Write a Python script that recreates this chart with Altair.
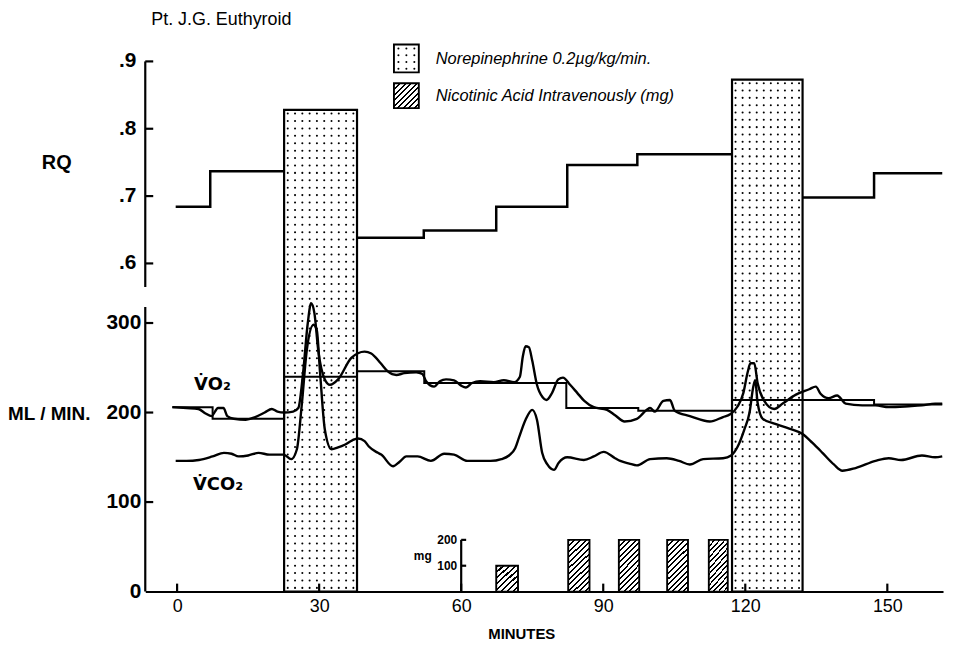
import math
import altair as alt
import numpy as np
import pandas as pd

# ---------------- values ----------------
# RQ per collection period (minutes, RQ)
rq_start = [-0.3, 7.0, 38.0, 52.1, 67.4, 82.4, 97.2, 132.1, 147.2]
rq_end = [7.0, 22.6, 52.1, 67.4, 82.4, 97.2, 117.2, 147.2, 161.6]
rq_value = [0.684, 0.737, 0.638, 0.649, 0.684, 0.746, 0.762, 0.698, 0.734]

# mean VO2 per period (ml/min)
vo2_mean_start = [-1.0, 7.5, 22.6, 38.0, 52.2, 82.2, 97.4, 117.2, 147.2]
vo2_mean_end = [7.5, 22.6, 38.0, 52.2, 82.2, 97.4, 117.2, 147.2, 161.6]
vo2_mean_value = [206, 193, 240, 246, 233, 205, 202, 214, 209]

# continuous VO2 trace
vo2_minute = [-1.0, 2.0, 4.5, 6.0, 7.3, 8.0, 8.6, 9.8, 10.6, 12.0, 14.5, 16.5, 18.5, 20.0,
              21.2, 22.6, 24.5, 25.6, 26.6, 27.6, 28.3, 29.0, 29.8, 31.2, 32.3, 34.0, 36.8,
              39.6, 41.0, 43.0, 44.5, 46.3, 48.0, 50.5, 51.8, 52.6, 54.3, 55.5, 56.8, 58.5,
              60.0, 61.0, 62.3, 64.0, 66.9, 69.0, 71.2, 72.4, 73.0, 73.6, 74.3, 75.0, 76.0,
              77.2, 78.0, 79.2, 80.5, 81.5, 83.0, 84.5, 86.0, 88.0, 90.8, 92.5, 94.5, 97.1,
              99.2, 99.9, 100.9, 102.7, 104.1, 105.1, 108.3, 112.5, 115.3, 116.8, 118.4,
              119.6, 120.5, 121.1, 121.9, 122.6, 124.0, 126.1, 127.9, 130.7, 133.5, 134.9,
              135.9, 137.6, 139.4, 141.2, 144.7, 147.5, 150.3, 154.5, 157.3, 160.1, 161.6]
vo2_value = [206, 205, 204, 199, 196, 201, 205, 205, 196, 193, 192, 195, 200, 204,
             201, 200, 201, 205, 244, 300, 322, 311, 270, 237, 231, 237, 261,
             268, 266, 255, 246, 242, 244, 245, 243, 235, 229, 235, 237, 236,
             230, 228, 233, 235, 234, 236, 234, 240, 262, 274, 273, 258, 231,
             217, 214, 222, 237, 239, 231, 222, 213, 206, 203, 197, 190, 193,
             203, 205, 201, 213, 214, 202, 196, 190, 195, 198, 207,
             222, 245, 255, 255, 233, 213, 204, 210, 220, 226, 229,
             221, 216, 219, 210, 208, 208, 206, 207, 208, 210, 210]

# continuous VCO2 trace
vco2_minute = [-0.3, 2.0, 4.6, 7.5, 9.9, 11.5, 13.0, 15.0, 17.2, 19.5, 22.5, 24.1, 25.3,
               26.3, 27.4, 28.8, 29.5, 30.2, 31.2, 32.6, 34.0, 35.4, 37.0, 38.2, 39.6,
               40.5, 42.4, 43.1, 45.6, 47.0, 48.4, 50.8, 53.6, 56.4, 58.5, 61.3, 64.0,
               66.2, 68.5, 70.1, 71.4, 72.2, 73.6, 75.0, 76.0, 77.1, 78.2, 79.6, 80.6,
               82.4, 85.9, 88.0, 90.1, 92.5, 93.6, 95.5, 97.1, 99.9, 103.4, 106.0, 108.3,
               111.1, 115.3, 117.0, 118.4, 119.8, 120.9, 121.7, 122.1, 122.6, 123.7,
               126.5, 129.3, 132.1, 134.2, 136.3, 138.7, 140.5, 143.3, 147.5, 150.3,
               152.9, 157.3, 160.1, 161.6]
vco2_value = [146, 146, 147, 151, 155, 154, 151, 152, 155, 153, 153, 148, 159,
              207, 270, 298, 292, 244, 181, 159, 161, 164, 169, 171, 168,
              162, 155, 153, 140, 145, 151, 151, 146, 154, 153, 146, 146,
              146, 148, 152, 160, 172, 192, 203, 192, 155, 142, 136, 144,
              150, 147, 151, 156, 149, 146, 143, 141, 148, 149, 146, 142,
              148, 149, 152, 162, 181, 200, 229, 236, 211, 193,
              187, 182, 176, 166, 155, 142, 135, 138, 146, 149,
              147, 152, 150, 151]

# norepinephrine infusions (minutes; bar top on the RQ scale)
ne_start = [22.6, 117.2]
ne_end = [38.0, 132.1]
ne_top_rq = [0.828, 0.873]

# nicotinic acid doses (minutes, mg)
na_start = [67.4, 82.6, 93.3, 103.5, 112.3]
na_end = [72.0, 87.1, 97.6, 107.9, 116.3]
na_mg = [100, 200, 200, 200, 200]

x_ticks = [0, 30, 60, 90, 120, 150]
rq_ticks = [0.6, 0.7, 0.8, 0.9]
rq_tick_labels = [".6", ".7", ".8", ".9"]
ml_ticks = [0, 100, 200, 300]
ml_tick_labels = ["0", "100", "200", "300"]
mg_ticks = [100, 200]
mg_tick_labels = ["100", "200"]

# ---------------- layout (pixels) ----------------
FONT = "Liberation Sans"
PLOT_LEFT, PLOT_TOP = 146, 8
PLOT_W, PLOT_H = 802, 585
PX_MIN = 4.76
ZERO_X = 178
X_MIN = (PLOT_LEFT - ZERO_X) / PX_MIN
X_MAX = X_MIN + PLOT_W / PX_MIN
PX_ML = 0.9
U_MAX = PLOT_H / PX_ML
BASE_Y = PLOT_TOP + PLOT_H
RQ_TOP_Y = 60
RQ_PX = 677
RQ_AXIS_LOW = 0.565
ML_AXIS_TOP = 318
MG_PX = 0.26


def rq_u(r):
    return (BASE_Y - (RQ_TOP_Y + (0.9 - r) * RQ_PX)) / PX_ML


def mg_u(mg):
    return mg * MG_PX / PX_ML


def px_m(px):
    return X_MIN + (px - PLOT_LEFT) / PX_MIN


def py_u(py):
    return (BASE_Y - py) / PX_ML


xscale = alt.Scale(domain=[X_MIN, X_MAX], nice=False, zero=False)
yscale = alt.Scale(domain=[0, U_MAX], nice=False, zero=False)
xaxis = alt.Axis(values=x_ticks, ticks=False, domain=True, domainColor="black",
                 domainWidth=2, labelFont=FONT, labelFontSize=18, labelColor="black",
                 labelPadding=6, labelFlush=False, grid=False, title="MINUTES",
                 titleFont=FONT, titleFontSize=15, titleFontWeight="bold",
                 titleColor="black", titlePadding=11, titleX=378)


def X(f):
    return alt.X(f, type="quantitative", scale=xscale, axis=xaxis, title="MINUTES")


def Y(f):
    return alt.Y(f, type="quantitative", scale=yscale, axis=None)


def steps(starts, ends, vals, conv):
    rows, block = [], 0
    n = len(starts)
    for i in range(n):
        if i > 0 and abs(starts[i] - ends[i - 1]) > 1e-6:
            block += 1
        rows.append({"m": starts[i], "u": conv(vals[i]), "b": block})
        if i == n - 1 or abs(starts[i + 1] - ends[i]) > 1e-6:
            rows.append({"m": ends[i], "u": conv(vals[i]), "b": block})
    return pd.DataFrame(rows)


def hatch(w, h, spacing=3.9, frac=0.36):
    k = (w + h) / (w * w + h * h)
    n = max(1, round((w + h) / math.sqrt(2) / spacing))
    stops = []
    for i in range(n):
        a, b, c = i / n, (i + frac) / n, (i + 1) / n
        stops += [{"offset": a, "color": "black"}, {"offset": b, "color": "black"},
                  {"offset": b, "color": "white"}, {"offset": c, "color": "white"}]
    return {"gradient": "linear", "x1": 0, "y1": 0, "x2": w * k, "y2": h * k, "stops": stops}


layers = []

# stipple texture of the norepinephrine bars
dots = []
for s, e, t in zip(ne_start, ne_end, ne_top_rq):
    top = rq_u(t)
    ncol = max(1, round((e - s) * PX_MIN / 7.4))
    nrow = max(1, round(top * PX_ML / 7.4))
    for i in range(ncol):
        for j in range(nrow):
            dots.append({"m": s + (i + 0.5) * (e - s) / ncol, "u": (j + 0.5) * top / nrow})
# legend stipple box
LB = (396, 421, 43, 71)
for i in range(3):
    for j in range(4):
        dots.append({"m": px_m(LB[0] + 4.5 + i * 8), "u": py_u(LB[2] + 4 + j * 6.8)})
layers.append(alt.Chart(pd.DataFrame(dots)).mark_circle(size=4.2, color="black", opacity=1)
              .encode(x=X("m"), y=Y("u")))

ne_df = pd.DataFrame({"s": ne_start, "e": ne_end, "top": [rq_u(t) for t in ne_top_rq]})
ne_df["zero"] = 0.0
layers.append(alt.Chart(ne_df).mark_rect(fillOpacity=0, stroke="black", strokeWidth=2.2)
              .encode(x=X("s"), x2="e", y=Y("zero"), y2="top"))

na_df = pd.DataFrame({"s": na_start, "e": na_end, "mg": na_mg})
na_df["zero"] = 0.0
na_df["top"] = [mg_u(v) for v in na_mg]
avg_w = float(np.mean(np.array(na_end) - np.array(na_start))) * PX_MIN
for cls in sorted(set(na_mg)):
    h = mg_u(cls) * PX_ML
    layers.append(alt.Chart(na_df).transform_filter(alt.datum.mg == cls)
                  .mark_rect(fill=hatch(avg_w, h), stroke="black", strokeWidth=1.9)
                  .encode(x=X("s"), x2="e", y=Y("zero"), y2="top"))

# RQ steps and mean VO2 steps
layers.append(alt.Chart(steps(rq_start, rq_end, rq_value, rq_u))
              .mark_line(interpolate="step-after", color="black", strokeWidth=2.5)
              .encode(x=X("m"), y=Y("u"), detail="b:N"))
layers.append(alt.Chart(steps(vo2_mean_start, vo2_mean_end, vo2_mean_value, lambda v: v))
              .mark_line(interpolate="step-after", color="black", strokeWidth=2.0)
              .encode(x=X("m"), y=Y("u"), detail="b:N"))

# continuous traces
layers.append(alt.Chart(pd.DataFrame({"m": vo2_minute, "u": vo2_value}))
              .mark_line(interpolate="monotone", color="black", strokeWidth=2.4)
              .encode(x=X("m"), y=Y("u")))
layers.append(alt.Chart(pd.DataFrame({"m": vco2_minute, "u": vco2_value}))
              .mark_line(interpolate="monotone", color="black", strokeWidth=2.4)
              .encode(x=X("m"), y=Y("u")))

# axis lines and inward ticks
axis_rows = [
    {"x": X_MIN, "x2": X_MIN, "y": rq_u(RQ_AXIS_LOW), "y2": rq_u(0.9)},
    {"x": X_MIN, "x2": X_MIN, "y": 0, "y2": ML_AXIS_TOP},
    {"x": 60, "x2": 60, "y": 0, "y2": mg_u(200)},
]
for r in rq_ticks:
    axis_rows.append({"x": X_MIN, "x2": X_MIN + 8 / PX_MIN, "y": rq_u(r), "y2": rq_u(r)})
for v in ml_ticks[1:]:
    axis_rows.append({"x": X_MIN, "x2": X_MIN + 8 / PX_MIN, "y": v, "y2": v})
for v in mg_ticks:
    axis_rows.append({"x": 60, "x2": 60 + 5 / PX_MIN, "y": mg_u(v), "y2": mg_u(v)})
for t in x_ticks:
    axis_rows.append({"x": t, "x2": t, "y": 0, "y2": 8 / PX_ML})
layers.append(alt.Chart(pd.DataFrame(axis_rows)).mark_rule(color="black", strokeWidth=2.2)
              .encode(x=X("x"), x2="x2", y=Y("y"), y2="y2"))

# tick labels
rq_lab = pd.DataFrame({"u": [rq_u(r) for r in rq_ticks], "t": rq_tick_labels, "m": X_MIN})
layers.append(alt.Chart(rq_lab).mark_text(align="right", baseline="middle", dx=-9, font=FONT,
                                          fontSize=21, fontWeight="bold", color="black")
              .encode(x=X("m"), y=Y("u"), text="t:N"))
ml_lab = pd.DataFrame({"u": ml_ticks, "t": ml_tick_labels, "m": X_MIN})
layers.append(alt.Chart(ml_lab).mark_text(align="right", baseline="middle", dx=-4, font=FONT,
                                          fontSize=21, fontWeight="bold", color="black")
              .encode(x=X("m"), y=Y("u"), text="t:N"))
mg_lab = pd.DataFrame({"u": [mg_u(v) for v in mg_ticks], "t": mg_tick_labels, "m": 60.0})
layers.append(alt.Chart(mg_lab).mark_text(align="right", baseline="middle", dx=-4, font=FONT,
                                          fontSize=12, fontWeight="bold", color="black")
              .encode(x=X("m"), y=Y("u"), text="t:N"))


def label(text, px, py, size, weight="normal", style="normal", align="left", font=FONT):
    return (alt.Chart(alt.Data(values=[{"t": text}]))
            .mark_text(align=align, baseline="middle", font=font, fontSize=size,
                       fontWeight=weight, fontStyle=style, color="black")
            .encode(x=alt.value(px - PLOT_LEFT), y=alt.value(py - PLOT_TOP), text="t:N"))


layers.append(label("Pt. J.G. Euthyroid", 152, 18, 18))
layers.append(label("RQ", 57, 162, 20, weight="bold", align="center"))
layers.append(label("ML / MIN.", 8, 415, 19, weight="bold"))
layers.append(label("V\u0307O\u2082", 195, 385, 18, weight="bold", font="DejaVu Sans"))
layers.append(label("V\u0307CO\u2082", 194, 486, 18, weight="bold", font="DejaVu Sans"))
layers.append(label("mg", 416, 557, 12, weight="bold"))
layers.append(label("Norepinephrine 0.2\u00b5g/kg/min.", 438, 58, 16.5, style="italic"))
layers.append(label("Nicotinic Acid Intravenously (mg)", 438, 95, 16.5, style="italic"))

# legend boxes
LB2 = (396, 421, 82, 107)
layers.append(alt.Chart(alt.Data(values=[{}])).mark_rect(fillOpacity=0, stroke="black", strokeWidth=1.9)
              .encode(x=alt.value(LB[0] - PLOT_LEFT), x2=alt.value(LB[1] - PLOT_LEFT),
                      y=alt.value(LB[2] - PLOT_TOP), y2=alt.value(LB[3] - PLOT_TOP)))
layers.append(alt.Chart(alt.Data(values=[{}]))
              .mark_rect(fill=hatch(LB2[1] - LB2[0], LB2[3] - LB2[2]), stroke="black", strokeWidth=1.9)
              .encode(x=alt.value(LB2[0] - PLOT_LEFT), x2=alt.value(LB2[1] - PLOT_LEFT),
                      y=alt.value(LB2[2] - PLOT_TOP), y2=alt.value(LB2[3] - PLOT_TOP)))

chart = (alt.layer(*layers)
         .properties(width=PLOT_W, height=PLOT_H, padding=0, background="white")
         .configure_view(strokeWidth=0))

chart.save("out.html", embed_options={"renderer": "svg", "actions": False})
